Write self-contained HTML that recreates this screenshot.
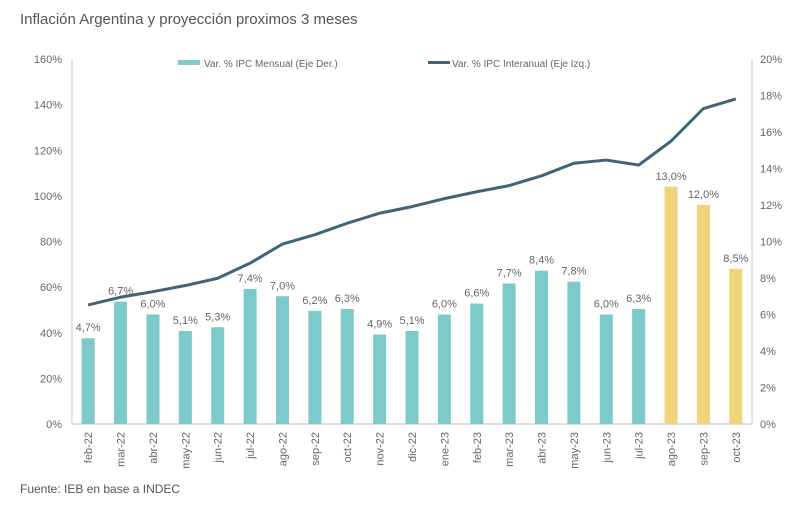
<!DOCTYPE html>
<html><head><meta charset="utf-8"><style>
body{margin:0;background:#fff;width:800px;height:501px;overflow:hidden;font-family:"Liberation Sans",sans-serif}
</style></head><body>
<svg id="c" width="800" height="501" xmlns="http://www.w3.org/2000/svg">
<text x="20" y="24" font-size="15" fill="#555">Inflación Argentina y proyección proximos 3 meses</text>
<text x="20" y="493" font-size="12" fill="#555">Fuente: IEB en base a INDEC</text>
<g>
<rect x="178" y="60" width="22" height="5" fill="#7ccaca"/>
<text x="204" y="67" font-size="10" fill="#666">Var. % IPC Mensual (Eje Der.)</text>
<rect x="428" y="61" width="22" height="3" fill="#3f6478"/>
<text x="452" y="67" font-size="10" fill="#666">Var. % IPC Interanual (Eje Izq.)</text>
</g>
<g id="g"></g>
</svg>
<script>
const categories=["feb-22","mar-22","abr-22","may-22","jun-22","jul-22","ago-22","sep-22","oct-22","nov-22","dic-22","ene-23","feb-23","mar-23","abr-23","may-23","jun-23","jul-23","ago-23","sep-23","oct-23"];
const monthly=[4.7,6.7,6.0,5.1,5.3,7.4,7.0,6.2,6.3,4.9,5.1,6.0,6.6,7.7,8.4,7.8,6.0,6.3,13.0,12.0,8.5];
const projected=[false,false,false,false,false,false,false,false,false,false,false,false,false,false,false,false,false,false,true,true,true];
const annual=[52.2,55.6,58.0,60.7,63.9,70.5,78.9,83.0,88.0,92.4,95.3,98.8,101.8,104.5,108.8,114.3,115.7,113.5,124.0,138.3,142.5];
const leftTicks=[0,20,40,60,80,100,120,140,160];
const rightTicks=[0,2,4,6,8,10,12,14,16,18,20];
const X0=72,X1=752,Y0=424,Y1=59;
const step=(X1-X0)/categories.length;
const xs=i=>X0+step*(i+0.5);
const yL=v=>Y0-(v/160)*(Y0-Y1);
const yR=v=>Y0-(v/20)*(Y0-Y1);
const g=document.getElementById('g');const NS="http://www.w3.org/2000/svg";
function mk(t,a){const e=document.createElementNS(NS,t);for(const k in a)e.setAttribute(k,a[k]);g.appendChild(e);return e;}
let e=mk('line',{x1:X0,x2:X1,y1:Y0,y2:Y0,stroke:'#bbb'});


e=mk('line',{x1:X0,x2:X0,y1:Y1,y2:Y0,stroke:'#ccc'});


e=mk('line',{x1:X1,x2:X1,y1:Y1,y2:Y0,stroke:'#ccc'});


leftTicks.forEach(v=>{const t=mk('text',{x:62,y:yL(v)+4,'font-size':11,fill:'#666','text-anchor':'end'});t.textContent=v+'%';

});
rightTicks.forEach(v=>{const t=mk('text',{x:760,y:yR(v)+4,'font-size':11,fill:'#666'});t.textContent=v+'%';

});
monthly.forEach((v,i)=>{const b=mk('rect',{x:xs(i)-6.5,y:yR(v),width:13,height:Y0-yR(v),fill:projected[i]?'#f0d37a':'#7ccaca'});


const t=mk('text',{x:xs(i),y:yR(v)-7,'font-size':11,fill:'#666','text-anchor':'middle'});t.textContent=v.toFixed(1).replace('.',',')+'%';


const c=mk('text',{transform:`translate(${xs(i)+4},${Y0+8}) rotate(-90)`,'font-size':11,fill:'#666','text-anchor':'end'});c.textContent=categories[i];

});
const p=mk('polyline',{points:annual.map((v,i)=>xs(i)+','+yL(v)).join(' '),fill:'none',stroke:'#3f6478','stroke-width':3,'stroke-linejoin':'round'});


</script>
</body></html>
